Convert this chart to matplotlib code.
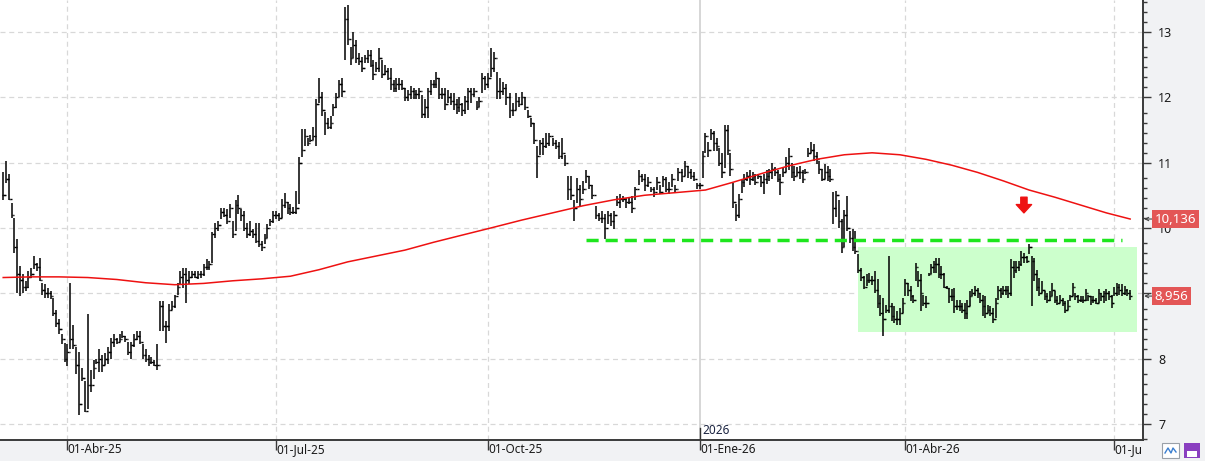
"""Daily OHLC bars with 200-session average, support line and range box."""
import numpy as np
import matplotlib.pyplot as plt
from matplotlib.patches import Rectangle

plt.rcParams["font.family"] = ["Noto Sans", "DejaVu Sans"]

# daily bars (price units)
highs = [
    10.85, 11.03, 10.83, 10.38, 10.15, 9.83, 9.42, 9.30, 9.18, 9.34,
    9.38, 9.57, 9.46, 9.54, 9.15, 9.14, 9.08, 9.03, 8.92, 8.75,
    8.60, 8.38, 8.23, 8.22, 9.15, 8.52, 8.18, 8.10, 7.85, 7.65,
    8.68, 7.83, 7.98, 8.00, 8.14, 8.05, 8.08, 8.17, 8.31, 8.37,
    8.31, 8.38, 8.42, 8.34, 8.26, 8.26, 8.38, 8.42, 8.42, 8.22,
    8.14, 8.06, 8.03, 7.98, 8.22, 8.88, 8.88, 8.57, 8.83, 8.88,
    8.98, 9.15, 9.34, 9.38, 9.38, 9.34, 9.34, 9.34, 9.34, 9.34,
    9.45,
    9.52, 9.50, 9.93, 10.08, 10.11, 10.31, 10.31, 10.29, 10.37, 10.11,
    10.42, 10.51, 10.29, 10.26, 10.08, 10.11, 9.98, 10.08, 10.08, 9.80,
    9.90, 10.06, 10.14, 10.26, 10.26, 10.23, 10.45, 10.54, 10.39, 10.37,
    10.32, 10.57, 11.08, 11.52, 11.52, 11.37, 11.42, 11.54, 11.98, 12.29,
    12.08, 11.77,
    11.69, 11.72, 11.90, 12.06, 12.26, 12.29, 13.38, 13.42, 12.77, 13.00,
    12.88, 12.68, 12.62, 12.65, 12.72, 12.72, 12.57, 12.54, 12.75, 12.57,
    12.49, 12.45, 12.45, 12.26, 12.29, 12.29, 12.26, 12.14, 12.11, 12.17,
    12.14, 12.11, 12.14, 12.03, 11.97, 12.15, 12.26, 12.26, 12.38, 12.29,
    12.14, 12.15, 12.11,
    12.06, 12.06, 11.98, 12.01, 11.92, 12.02, 12.14, 12.15, 12.14, 11.95,
    12.00, 12.37, 12.32, 12.37, 12.75, 12.69, 12.38, 12.29, 12.23, 12.21,
    12.06, 11.92, 12.06, 12.01, 12.08, 12.01, 11.80, 11.68, 11.60, 11.26,
    11.34, 11.37, 11.45, 11.46, 11.37, 11.34, 11.31, 11.37, 11.11, 10.80,
    10.80, 10.42,
    10.77, 10.65, 10.72, 10.88, 10.80, 10.65, 10.34, 10.23, 10.26, 10.22,
    10.26, 10.23, 10.26, 10.49, 10.52, 10.49, 10.46, 10.46, 10.49, 10.63,
    10.88, 10.83, 10.83, 10.78, 10.63, 10.63, 10.78, 10.65, 10.80, 10.78,
    10.70, 10.83, 10.65, 10.92, 10.90, 11.03, 10.95, 10.90, 10.85, 10.69,
    10.69, 11.18, 11.46, 11.31,
    11.52, 11.49, 11.37, 11.22, 11.14, 11.57, 11.57, 11.14, 10.68, 10.37,
    10.52, 10.75, 10.83, 10.85, 10.88, 10.85, 10.83, 10.83, 10.80, 10.83,
    10.88, 10.90, 11.00, 10.93, 10.88, 10.83, 10.93, 11.08, 11.22, 11.00,
    10.95, 10.93, 10.95, 10.88, 10.90, 11.23, 11.31, 11.28, 11.16, 11.03,
    10.90, 10.98, 10.95, 10.90, 10.55,
    10.57, 10.43, 10.14, 10.27, 10.49, 9.95, 9.98, 9.95, 9.60, 9.38,
    9.26, 9.29, 9.31, 9.26, 9.34, 9.22, 8.98, 8.92, 8.82, 9.57,
    8.85, 8.80, 8.72, 8.77, 8.92, 9.22, 9.16, 9.11, 8.98, 9.46,
    9.34, 9.29, 8.98, 8.95, 9.31, 9.44, 9.49, 9.54, 9.54, 9.41,
    9.31, 9.11, 9.08, 9.06, 9.08, 8.90, 8.90, 8.85, 8.85, 8.90,
    9.03, 9.06, 9.11, 9.08, 9.00, 8.98, 8.95, 8.82, 8.80, 8.78,
    8.93, 9.11, 9.08, 9.11, 9.11, 9.11, 9.52, 9.49, 9.49, 9.49,
    9.65, 9.62, 9.57, 9.75, 9.57, 9.54, 9.36, 9.24, 9.19, 9.03,
    9.01, 9.03, 9.16, 9.03, 8.95, 8.98, 8.93, 8.88, 8.90, 8.98,
    9.16, 9.00, 8.98, 8.95, 8.95, 9.06, 8.98, 8.95, 8.95, 8.93,
    9.06, 9.01, 9.03, 9.06, 9.03, 8.98, 9.09, 9.16, 9.14, 9.14,
    9.11, 9.06, 9.05,
]
lows = [
    10.42, 10.68, 10.42, 10.15, 9.62, 9.00, 8.95, 9.00, 9.03, 9.08,
    9.23, 9.37, 9.34, 9.18, 8.98, 8.92, 8.92, 8.91, 8.65, 8.49,
    8.38, 8.22, 7.95, 7.88, 8.14, 8.15, 7.77, 7.14, 7.65, 7.18,
    7.22, 7.49, 7.69, 7.92, 7.80, 7.80, 7.90, 7.92, 8.00, 8.17,
    8.22, 8.26, 8.31, 8.26, 8.06, 8.00, 8.17, 8.29, 8.22, 8.00,
    7.95, 7.88, 7.91, 7.88, 7.83, 8.42, 8.42, 8.23, 8.42, 8.75,
    8.77, 8.98, 9.14, 9.08, 8.85, 9.14, 9.23, 9.23, 9.22, 9.23,
    9.26,
    9.35, 9.35, 9.47, 9.85, 9.95, 10.14, 10.17, 10.06, 10.15, 9.85,
    9.95, 10.22, 10.11, 9.95, 9.85, 9.88, 9.85, 9.77, 9.70, 9.65,
    9.75, 9.85, 10.03, 10.08, 10.14, 10.11, 10.15, 10.31, 10.22, 10.20,
    10.22, 10.22, 10.37, 11.08, 11.26, 11.26, 11.31, 11.34, 11.26, 11.91,
    11.72, 11.42,
    11.52, 11.52, 11.72, 11.83, 12.00, 12.00, 12.57, 12.80, 12.49, 12.60,
    12.52, 12.49, 12.38, 12.52, 12.52, 12.47, 12.26, 12.38, 12.38, 12.29,
    12.34, 12.26, 12.11, 12.08, 12.08, 12.11, 12.11, 11.95, 11.94, 11.97,
    11.97, 11.97, 11.97, 11.68, 11.69, 11.69, 12.03, 12.14, 12.15, 11.98,
    11.98, 11.80, 11.91,
    11.88, 11.80, 11.75, 11.78, 11.72, 11.74, 11.80, 11.92, 12.00, 11.80,
    11.85, 12.06, 12.11, 12.15, 12.31, 12.38, 11.98, 11.98, 12.03, 11.88,
    11.69, 11.72, 11.80, 11.85, 11.88, 11.80, 11.69, 11.54, 11.29, 10.77,
    11.11, 11.11, 11.23, 11.26, 11.26, 11.21, 11.06, 11.06, 10.95, 10.42,
    10.42, 10.11,
    10.38, 10.34, 10.52, 10.69, 10.60, 10.45, 10.14, 10.11, 10.08, 9.83,
    10.06, 10.03, 9.98, 10.34, 10.31, 10.39, 10.31, 10.36, 10.23, 10.43,
    10.65, 10.70, 10.57, 10.63, 10.55, 10.48, 10.58, 10.52, 10.62, 10.55,
    10.52, 10.63, 10.55, 10.72, 10.70, 10.80, 10.77, 10.75, 10.72, 10.60,
    10.60, 10.77, 11.14, 11.08,
    11.34, 11.18, 11.18, 10.95, 10.77, 10.92, 11.11, 10.80, 10.31, 10.11,
    10.15, 10.54, 10.62, 10.72, 10.65, 10.72, 10.65, 10.75, 10.62, 10.52,
    10.67, 10.72, 10.75, 10.80, 10.70, 10.50, 10.78, 10.85, 10.88, 10.77,
    10.72, 10.80, 10.75, 10.68, 10.83, 11.08, 11.14, 11.03, 10.98, 10.83,
    10.72, 10.75, 10.72, 10.70, 10.06,
    10.16, 10.00, 9.62, 9.71, 9.95, 9.77, 9.65, 9.60, 9.31, 9.18,
    9.06, 9.11, 9.16, 9.13, 9.00, 8.77, 8.65, 8.34, 8.69, 8.69,
    8.57, 8.54, 8.52, 8.52, 8.69, 8.95, 8.95, 8.88, 8.85, 9.18,
    9.09, 8.72, 8.80, 8.77, 9.26, 9.29, 9.31, 9.31, 9.24, 9.21,
    9.08, 9.06, 8.85, 8.88, 8.70, 8.75, 8.72, 8.70, 8.60, 8.60,
    8.80, 8.95, 8.95, 8.93, 8.85, 8.65, 8.62, 8.70, 8.65, 8.55,
    8.62, 8.90, 8.93, 8.98, 8.98, 8.93, 8.95, 9.24, 9.31, 9.34,
    9.42, 9.47, 9.47, 9.60, 8.80, 9.18, 9.03, 8.95, 9.01, 8.90,
    8.85, 8.88, 8.95, 8.85, 8.82, 8.85, 8.80, 8.69, 8.75, 8.88,
    8.95, 8.90, 8.85, 8.87, 8.85, 8.88, 8.88, 8.82, 8.85, 8.83,
    8.85, 8.88, 8.85, 8.88, 8.90, 8.78, 8.95, 8.95, 8.98, 8.95,
    8.98, 8.95, 8.90,
]
closes = [
    10.50, 10.75, 10.45, 10.20, 9.70, 9.30, 9.20, 9.10, 9.10, 9.25,
    9.30, 9.45, 9.40, 9.20, 9.05, 9.00, 9.00, 8.95, 8.70, 8.55,
    8.45, 8.30, 8.00, 8.10, 8.30, 8.20, 7.90, 7.30, 7.70, 7.20,
    7.60, 7.60, 7.85, 7.95, 8.00, 7.90, 8.00, 8.10, 8.25, 8.30,
    8.25, 8.30, 8.35, 8.30, 8.10, 8.20, 8.30, 8.35, 8.25, 8.05,
    8.00, 7.95, 7.95, 7.90, 7.90, 8.80, 8.50, 8.50, 8.75, 8.80,
    8.95, 9.10, 9.25, 9.30, 9.20, 9.25, 9.30, 9.25, 9.30, 9.30,
    9.40,
    9.40, 9.45, 9.90, 10.00, 10.05, 10.25, 10.20, 10.10, 10.30, 9.90,
    10.35, 10.30, 10.20, 10.00, 9.90, 9.95, 9.90, 9.80, 9.75, 9.70,
    9.85, 10.00, 10.10, 10.20, 10.20, 10.15, 10.35, 10.40, 10.30, 10.25,
    10.25, 10.30, 11.00, 11.20, 11.40, 11.30, 11.35, 11.40, 11.90, 12.00,
    11.80, 11.60,
    11.55, 11.60, 11.85, 12.00, 12.20, 12.10, 13.20, 12.90, 12.60, 12.80,
    12.60, 12.55, 12.45, 12.60, 12.65, 12.50, 12.35, 12.45, 12.60, 12.35,
    12.40, 12.30, 12.20, 12.15, 12.20, 12.20, 12.15, 12.00, 12.05, 12.10,
    12.05, 12.05, 12.10, 11.75, 11.85, 12.10, 12.20, 12.20, 12.30, 12.05,
    12.05, 11.90, 12.00,
    11.95, 11.90, 11.85, 11.90, 11.80, 11.95, 12.10, 12.05, 12.10, 11.85,
    11.95, 12.30, 12.20, 12.30, 12.45, 12.60, 12.10, 12.10, 12.15, 12.00,
    11.80, 11.80, 11.95, 11.90, 12.00, 11.85, 11.72, 11.60, 11.35, 11.10,
    11.30, 11.25, 11.30, 11.40, 11.30, 11.25, 11.10, 11.15, 11.00, 10.60,
    10.50, 10.30,
    10.60, 10.45, 10.60, 10.80, 10.65, 10.50, 10.20, 10.15, 10.15, 10.00,
    10.20, 10.10, 10.20, 10.40, 10.45, 10.45, 10.40, 10.40, 10.30, 10.60,
    10.80, 10.75, 10.65, 10.70, 10.60, 10.55, 10.70, 10.55, 10.75, 10.60,
    10.60, 10.75, 10.60, 10.85, 10.80, 10.95, 10.85, 10.80, 10.75, 10.65,
    10.65, 11.10, 11.40, 11.20,
    11.45, 11.30, 11.25, 11.00, 10.85, 11.50, 11.20, 10.90, 10.40, 10.20,
    10.45, 10.70, 10.75, 10.80, 10.75, 10.80, 10.70, 10.80, 10.70, 10.75,
    10.80, 10.85, 10.90, 10.85, 10.75, 10.70, 10.85, 11.00, 11.10, 10.85,
    10.80, 10.85, 10.85, 10.75, 10.85, 11.15, 11.20, 11.10, 11.05, 10.90,
    10.75, 10.85, 10.80, 10.75, 10.30,
    10.50, 10.10, 9.70, 10.20, 10.00, 9.85, 9.70, 9.65, 9.35, 9.25,
    9.10, 9.20, 9.20, 9.20, 9.05, 8.85, 8.70, 8.60, 8.75, 8.80,
    8.65, 8.60, 8.60, 8.70, 8.85, 9.15, 9.05, 8.95, 8.90, 9.40,
    9.20, 9.00, 8.85, 8.85, 9.30, 9.40, 9.45, 9.45, 9.30, 9.30,
    9.10, 9.08, 8.95, 8.95, 8.80, 8.80, 8.80, 8.75, 8.70, 8.80,
    8.95, 9.00, 9.05, 9.00, 8.90, 8.80, 8.70, 8.75, 8.70, 8.60,
    8.85, 9.05, 9.00, 9.05, 9.05, 9.00, 9.40, 9.35, 9.40, 9.45,
    9.55, 9.55, 9.50, 9.70, 9.50, 9.30, 9.10, 9.00, 9.05, 8.95,
    8.90, 8.95, 9.05, 8.90, 8.85, 8.90, 8.85, 8.75, 8.80, 8.95,
    9.10, 8.95, 8.90, 8.90, 8.90, 9.00, 8.95, 8.90, 8.90, 8.85,
    9.00, 8.95, 9.00, 9.00, 8.95, 8.85, 9.00, 9.10, 9.05, 9.00,
    9.05, 9.00, 8.956,
]

# date axis: bar index of each labelled date
tick_labels = ["01-Abr-25", "01-Jul-25", "01-Oct-25", "01-Ene-26", "01-Abr-26", "01-Jul-26"]
tick_dates = ["2025-04-01", "2025-07-01", "2025-10-01", "2026-01-01", "2026-04-01", "2026-07-01"]
tick_bars = [23, 95, 169, 238, 312, 393]
first_date = "2025-03-04"
last_date = "2026-07-08"
year_label = "2026"

# 200-session moving average, read every 10 bars
ma_bars = [0, 10, 20, 30, 40, 50, 60, 70, 80, 90, 100, 110, 120, 130, 140,
           150, 160, 170, 180, 190, 200, 210, 220, 230, 240, 250, 260, 270,
           280, 290, 300, 310, 320, 330, 340, 350, 360, 370, 380, 390, 399]
ma_values = [9.24, 9.25, 9.25, 9.24, 9.21, 9.16, 9.13, 9.15, 9.19, 9.22, 9.26,
             9.36, 9.48, 9.57, 9.66, 9.78, 9.89, 10.00, 10.12, 10.23, 10.34,
             10.43, 10.50, 10.54, 10.58, 10.70, 10.83, 10.95, 11.05, 11.12,
             11.15, 11.12, 11.05, 10.96, 10.85, 10.72, 10.58, 10.47, 10.35,
             10.23, 10.136]

support_level = 9.815
support_from, support_to = 201, 396
zone_low, zone_high = 8.41, 9.70
zone_from = 295
arrow_bar = 358
arrow_top, arrow_tip = 10.47, 10.23

n = len(closes)
anchor_bars = [0] + tick_bars + [n - 1]
anchor_days = np.busday_count(first_date, [first_date] + tick_dates + [last_date])
x = np.interp(np.arange(n), anchor_bars, anchor_days)
tick_x = np.busday_count(first_date, tick_dates)
opens = [closes[0]] + closes[:-1]

W, H = 1205, 461
fig = plt.figure(figsize=(W / 100, H / 100), dpi=100, facecolor="#f1f2f4")
ax = fig.add_axes([0, 21 / H, 1143 / W, 440 / H])
ax.set_facecolor("white")

ax.set_xlim(x[0] - 1, x[-1] + 4)
ax.set_ylim(6.752, 13.49)

# grid
for v in range(7, 14):
    ax.axhline(v, color="#d8d8d8", lw=0.9, dashes=(4, 3), zorder=0)
for tx, lab in zip(tick_x, tick_labels):
    if lab.startswith("01-Ene"):
        ax.axvline(tx, color="#d3d3d3", lw=1.3, zorder=0)
        ax.axvline(tx, ymin=0, ymax=12 / 440, color="#333333", lw=1, zorder=1)
        ax.text(tx + 0.8, 6.80, year_label, fontsize=8.5, color="#1a2340",
                ha="left", va="bottom")
    else:
        ax.axvline(tx, color="#d8d8d8", lw=0.9, dashes=(4, 3), zorder=0)

# range box and support
zone_x0 = x[zone_from]
ax.add_patch(Rectangle((zone_x0, zone_low), x[-1] + 2 - zone_x0, zone_high - zone_low,
                       facecolor="#ccffcc", edgecolor="none", zorder=1))
ax.plot([x[support_from], x[support_to]], [support_level, support_level],
        color="#1ee61e", lw=2.5, dashes=(3.5, 2), zorder=4)

# ohlc bars
ax.vlines(x, lows, highs, color="black", lw=1.1, zorder=3)
ax.hlines(opens, x - 0.5, x, color="black", lw=1.0, zorder=3)
ax.hlines(closes, x, x + 0.5, color="black", lw=1.0, zorder=3)

# moving average
ax.plot(x[ma_bars], ma_values, color="#ee1111", lw=1.1, zorder=4)

# red arrow
ax.annotate("", xy=(x[arrow_bar], arrow_tip), xytext=(x[arrow_bar], arrow_top),
            arrowprops=dict(arrowstyle="simple,head_length=0.6,head_width=1.1,tail_width=0.45",
                            fc="#ee1111", ec="#ee1111", shrinkA=0, shrinkB=0,
                            mutation_scale=10), zorder=5)

# axes styling
for side in ("top", "left"):
    ax.spines[side].set_visible(False)
ax.spines["right"].set_color("#3a3a3a")
ax.spines["right"].set_linewidth(1.4)
ax.spines["bottom"].set_color("#3a3a3a")
ax.spines["bottom"].set_linewidth(1.4)

ax.yaxis.tick_right()
ax.set_yticks(range(7, 14))
minor = [v + k * 0.153 for v in range(6, 14) for k in range(1, 6)]
ax.set_yticks([m for m in minor if 6.75 < m < 13.49], minor=True)
ax.tick_params(axis="y", which="major", direction="out", length=6, width=1,
               color="#3a3a3a", labelsize=9, labelcolor="#1a1a1a", pad=5)
ax.tick_params(axis="y", which="minor", direction="out", length=3, width=1, color="#3a3a3a")

ax.set_xticks(tick_x)
ax.set_xticklabels(tick_labels, ha="left")
ax.tick_params(axis="x", direction="out", length=7, width=1, color="#3a3a3a",
               labelsize=8.5, labelcolor="#1a1a1a", pad=-5)

# last-value tags (they sit over the axis labels, as on the original)
for val, txt in [(ma_values[-1], "10,136"), (closes[-1], "8,956")]:
    ax.annotate(txt, xy=(1.001, val), xycoords=("axes fraction", "data"),
                xytext=(7.5, 0), textcoords="offset points",
                ha="left", va="center", color="white", fontsize=9.5,
                bbox=dict(boxstyle="square,pad=0.2", fc="#e35656", ec="none"),
                arrowprops=dict(arrowstyle="->", color="#444444", lw=0.8,
                                shrinkA=0, shrinkB=0, mutation_scale=6),
                annotation_clip=False, zorder=6)

# bottom-right corner panel with the two toolbar icons
fig.patches.append(Rectangle((1143 / W, 0), 62 / W, 20 / H, transform=fig.transFigure,
                             facecolor="#f1f2f4", edgecolor="none", zorder=5))
fig.patches.append(Rectangle((1162 / W, 3 / H), 17 / W, 15 / H, transform=fig.transFigure,
                             facecolor="white", edgecolor="#9aa0a8", lw=0.8, zorder=6))
fig.add_artist(plt.Line2D([1165 / W, 1168 / W, 1171 / W, 1173 / W, 1176 / W],
                          [8 / H, 13 / H, 8 / H, 13 / H, 9 / H], color="#3b7fd0", lw=1, zorder=7))
fig.patches.append(Rectangle((1184 / W, 3 / H), 16 / W, 15 / H, transform=fig.transFigure,
                             facecolor="#8a3fc0", edgecolor="none", zorder=6))
fig.patches.append(Rectangle((1187 / W, 4 / H), 10 / W, 6 / H, transform=fig.transFigure,
                             facecolor="white", edgecolor="none", zorder=7))

fig.savefig("out.png", dpi=100, facecolor=fig.get_facecolor())
